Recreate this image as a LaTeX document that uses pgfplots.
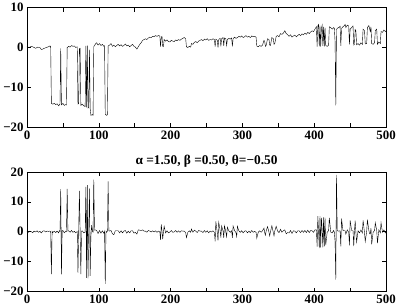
\documentclass[border=0pt]{standalone}
\usepackage{pgfplots}
\pgfplotsset{compat=1.18}
\usepackage{fontspec}
\setmainfont{Liberation Serif}

\pgfplotsset{
  sig/.style={
    scale only axis, width=363pt, height=121pt,
    xmin=0, xmax=500,
    xtick={0,50,...,500},
    xticklabels={0,,100,,200,,300,,400,,500},
    tick align=inside, major tick length=4pt,
    tick style={black, line width=0.5pt},
    axis line style={line width=0.6pt},
    tick label style={font=\bfseries\fontsize{13}{14}\selectfont},
    cycle list={{black, line width=0.6pt, mark=none}},
  }
}

\begin{document}
\begin{tikzpicture}
% top: observed series
\begin{axis}[sig, ymin=-20, ymax=10,
  ytick={-20,-10,0,10}, yticklabels={−20,−10,0,10}]
\addplot coordinates {
(0,0.2)(3,0.0)(6,0.3)(9,0.1)(12,-0.2)(15,0.1)(18,0.0)(20,-0.5)(22,-0.4)(24,-0.2)
(27,0.0)(30,0.2)(32,0.4)(33,0.3)(34,-14.0)(36,-14.2)(38,-14.0)(40,-14.3)(42,-14.1)
(44,-14.6)(46,-14.2)(47,-0.2)(48,-14.4)(50,-14.0)(52,-14.5)(54,-14.3)(55,-14.4)
(56,0.0)(58,0.3)(60,0.1)(62,0.5)(64,0.3)(66,0.4)(68,0.0)(70,0.2)(71,-14.2)(72,-14.0)
(73,-0.3)(74,-0.2)(75,-14.5)(77,-14.2)(79,-14.6)(81,-14.8)(82,0.4)(83,-15.0)(84,0.5)
(85,-15.2)(86,-15.0)(87,-0.5)(88,-15.3)(89,-17.0)(91,-16.8)(92,-17.0)(93,0.2)(95,0.8)
(97,1.2)(99,0.6)(101,1.0)(103,0.5)(105,0.8)(107,0.3)(108,0.5)(109,-16.8)(111,-17.0)
(112,-16.8)(113,0.4)(115,0.6)(117,1.0)(119,0.3)(121,0.6)(123,0.2)(125,0.5)(127,0.8)
(129,0.4)(131,0.7)(133,0.3)(135,0.5)(137,0.9)(139,0.4)(141,0.6)(143,0.2)(145,0.5)
(147,0.8)(149,0.3)(151,0.1)(153,-0.4)(155,0.2)(157,0.8)(159,1.2)(161,1.8)(163,2.0)
(165,2.2)(167,2.0)(169,2.4)(171,2.6)(173,2.5)(175,2.8)(177,2.7)(179,3.0)(181,2.8)
(183,3.0)(185,2.9)(186,0.2)(187,2.6)(188,2.8)(189,0.3)(190,0.2)(191,2.0)(193,1.6)
(195,1.9)(197,1.5)(199,1.4)(201,1.8)(203,1.6)(205,1.5)(207,1.9)(209,1.7)(211,2.0)
(213,1.8)(215,2.1)(217,2.3)(219,2.5)(221,2.2)(222,0.2)(224,0.0)(226,0.3)(228,0.1)
(229,1.0)(231,0.8)(233,1.3)(235,1.5)(237,1.2)(239,1.6)(241,1.8)(243,2.0)(245,1.7)
(247,2.1)(249,1.9)(251,2.2)(253,1.8)(255,2.0)(257,1.9)(259,2.2)(261,2.0)(262,0.2)
(263,2.1)(265,1.8)(266,0.0)(267,2.0)(269,2.3)(270,0.3)(271,2.2)(273,2.5)(274,0.4)
(275,2.4)(277,2.2)(278,0.5)(279,2.0)(281,2.3)(283,2.1)(285,2.4)(286,0.3)(287,2.2)
(289,2.6)(291,2.3)(293,2.5)(295,2.8)(297,2.6)(299,2.9)(301,2.5)(303,2.7)(305,3.0)
(307,2.6)(309,2.8)(311,2.5)(313,2.9)(315,2.7)(317,2.8)(319,2.6)(320,0.4)(322,0.2)
(324,0.5)(326,0.3)(328,0.6)(330,1.8)(331,1.5)(332,0.3)(333,0.5)(335,2.2)(337,2.0)
(338,0.6)(339,0.5)(341,2.5)(343,2.2)(344,0.8)(345,1.0)(347,2.8)(349,3.0)(351,2.7)
(353,3.5)(355,3.3)(357,3.6)(359,4.2)(361,3.5)(363,3.2)(365,2.8)(367,3.2)(369,2.6)
(371,2.9)(373,3.1)(375,2.7)(377,3.0)(379,3.3)(381,3.0)(383,3.4)(385,3.2)(387,3.6)
(389,3.3)(391,3.8)(393,3.5)(395,3.9)(397,4.2)(399,4.0)(401,4.6)(403,5.2)(404,0.2)
(405,5.4)(406,5.8)(407,0.3)(408,5.5)(409,0.2)(410,4.8)(411,5.6)(412,0.4)(413,5.2)
(414,0.3)(415,5.0)(416,0.5)(418,0.3)(420,0.6)(421,5.2)(423,5.0)(425,4.6)(427,5.0)
(428,4.8)(429,1.5)(430,-14.5)(431,4.5)(432,4.8)(434,5.0)(436,5.3)(437,0.4)(438,4.8)
(440,5.2)(442,5.5)(443,5.8)(444,5.0)(446,5.6)(448,5.4)(449,0.8)(450,4.6)(452,5.0)
(454,5.4)(455,0.6)(456,0.8)(457,4.5)(458,4.2)(459,0.7)(461,1.0)(463,0.6)(465,1.2)
(467,0.8)(468,4.6)(470,4.2)(471,0.9)(473,1.0)(474,5.0)(476,5.5)(477,4.8)(478,4.0)
(479,5.2)(480,1.0)(482,0.8)(484,1.2)(485,4.2)(487,4.6)(488,0.8)(490,1.4)(492,1.0)
(493,4.0)(495,3.8)(497,4.4)(499,4.0)(500,4.2)
};
\end{axis}
% bottom: residual series
\begin{axis}[sig, at={(0,-166pt)}, ymin=-20, ymax=20,
  ytick={-20,-10,0,10,20}, yticklabels={−20,−10,0,10,20},
  title={α =1.50, β =0.50, θ=−0.50},
  title style={font=\bfseries\fontsize{13.5}{15}\selectfont, yshift=-5pt}]
\addplot coordinates {
(0,0.1)(2,-0.2)(4,0.2)(6,0.0)(8,-0.3)(10,0.2)(12,-0.1)(14,0.3)(16,-0.2)(18,0.1)
(20,-0.4)(22,0.2)(24,0.3)(26,-0.1)(28,0.2)(30,0.1)(32,0.2)(33,0.0)(34,-14.2)(35,0.1)
(36,-0.3)(38,0.2)(40,-0.3)(42,0.2)(44,-0.4)(45,0.3)(46,0.1)(47,14.2)(48,-14.3)(49,0.3)
(50,0.4)(52,-0.4)(54,0.2)(55,0.0)(56,14.3)(57,0.2)(58,0.3)(60,-0.2)(62,0.4)(64,-0.2)
(66,0.1)(68,-0.4)(70,0.1)(71,-13.8)(72,0.2)(73,13.6)(74,0.1)(75,-14.2)(76,0.2)(77,0.3)
(79,-0.4)(81,-0.2)(82,15.0)(83,-15.4)(84,15.6)(85,-15.6)(86,0.2)(87,14.5)(88,-14.8)
(89,-1.7)(90,2.2)(91,0.2)(92,-0.2)(93,17.4)(94,0.5)(95,0.6)(97,0.4)(99,-0.6)(101,0.4)
(103,-0.5)(105,0.3)(107,-0.5)(108,0.2)(109,-17.4)(110,0.2)(111,-0.2)(112,0.2)(113,16.8)
(114,0.3)(115,0.2)(117,0.4)(119,-0.7)(121,-1.0)(123,0.3)(125,0.3)(127,0.3)(129,-0.4)
(131,0.3)(133,-0.4)(135,0.2)(137,0.4)(139,-0.5)(141,0.2)(143,-0.4)(145,0.3)(147,0.3)
(149,-0.5)(151,-0.2)(153,-0.8)(155,0.6)(157,0.5)(159,0.4)(161,0.6)(163,0.2)(165,0.2)
(167,-0.2)(169,0.4)(171,0.2)(173,-0.1)(175,0.3)(177,-0.1)(179,0.3)(181,-0.2)(183,0.2)
(185,-0.1)(186,-2.7)(187,2.4)(188,0.2)(189,-2.5)(190,-0.1)(191,1.8)(193,-0.4)(195,0.3)
(197,-0.4)(199,-0.1)(201,0.4)(203,-0.2)(205,-0.1)(207,0.4)(209,-0.2)(211,0.3)(213,-0.2)
(215,0.3)(217,0.2)(219,0.2)(221,-0.3)(222,-2.0)(224,-0.2)(226,0.3)(228,-0.2)(229,0.9)
(231,-0.2)(233,0.5)(235,0.2)(237,-0.3)(239,0.4)(241,0.2)(243,0.2)(245,-0.3)(247,0.4)
(249,-0.2)(251,0.3)(253,-0.4)(255,0.2)(257,-0.1)(259,0.3)(261,-0.2)(262,-3.2)(263,3.4)
(265,-0.3)(266,-3.0)(267,3.2)(269,0.3)(270,-2.0)(271,1.9)(273,0.3)(274,-2.1)(275,2.0)
(277,-0.2)(278,-1.7)(279,1.5)(281,0.3)(283,-0.2)(285,0.3)(286,-2.1)(287,1.9)(289,0.4)
(291,-0.3)(292,-1.6)(293,1.8)(295,0.3)(297,-0.2)(299,0.3)(301,-0.4)(303,0.2)(305,0.3)
(307,-0.4)(309,0.2)(311,-0.3)(313,0.4)(315,-0.2)(317,0.1)(319,-0.2)(320,-2.2)(322,-0.2)
(324,0.3)(326,-0.2)(328,0.3)(330,1.2)(331,-0.3)(332,-1.2)(333,0.2)(335,1.7)(337,-0.2)
(338,-1.4)(339,-0.1)(341,2.0)(343,-0.3)(344,-1.4)(345,0.2)(347,1.8)(349,0.2)(351,-0.3)
(353,0.8)(355,-0.2)(357,0.3)(359,0.6)(361,-0.7)(363,-0.3)(365,-0.4)(367,0.4)(369,-0.6)
(371,0.3)(373,0.2)(375,-0.4)(377,0.3)(379,0.3)(381,-0.3)(383,0.4)(385,-0.2)(387,0.4)
(389,-0.3)(391,0.5)(393,-0.3)(395,0.4)(397,0.3)(399,-0.2)(401,0.6)(403,0.6)(404,-5.0)
(405,5.2)(406,0.4)(407,-5.5)(408,5.2)(409,-5.3)(410,4.6)(411,0.8)(412,-5.2)(413,4.8)
(414,-4.9)(415,4.7)(416,-4.5)(418,-0.2)(420,0.3)(421,4.6)(423,-0.2)(425,-0.4)(427,0.4)
(428,-0.2)(429,-3.3)(430,-16.0)(431,19.0)(432,0.3)(434,0.2)(436,0.3)(437,-4.9)(438,4.4)
(440,0.4)(442,0.3)(443,0.3)(444,-0.8)(446,0.6)(448,-0.2)(449,-4.6)(450,3.8)(452,0.4)
(454,0.4)(455,-4.8)(456,0.2)(457,3.7)(458,-0.3)(459,-3.5)(461,0.3)(463,-0.4)(465,0.6)
(467,-0.4)(468,3.8)(470,-0.4)(471,-3.3)(473,0.1)(474,4.0)(476,0.5)(477,-0.7)(478,-0.8)
(479,1.2)(480,-4.2)(482,-0.2)(484,0.4)(485,3.0)(487,0.4)(488,-3.8)(490,0.6)(492,-0.4)
(493,3.0)(495,-0.2)(497,0.6)(499,-0.4)(500,0.2)
};
\end{axis}
\end{tikzpicture}
\end{document}
